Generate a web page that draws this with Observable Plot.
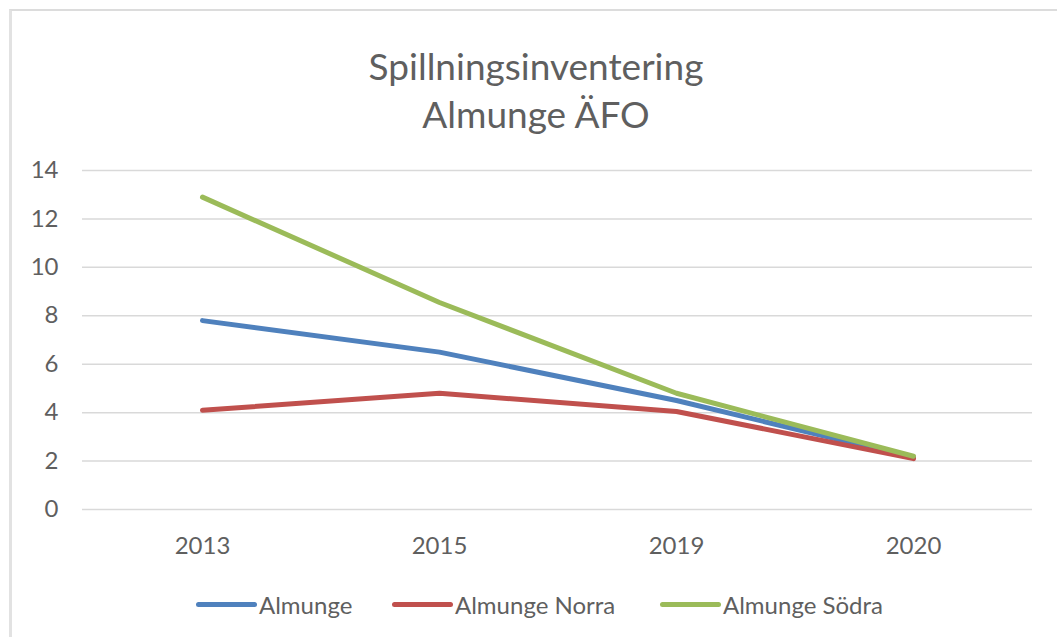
<!DOCTYPE html>
<html>
<head>
<meta charset="utf-8">
<script src="https://cdn.jsdelivr.net/npm/d3@7"></script>
<script src="https://cdn.jsdelivr.net/npm/@observablehq/plot@0.6"></script>
<style>
  html, body { margin: 0; padding: 0; background: #fff; }
  body { width: 1057px; height: 637px; position: relative; overflow: hidden; font-family: Lato, "Open Sans", sans-serif; color: #5f5f5f; }
  #frame { position: absolute; left: 9px; top: 9px; width: 1060px; height: 640px; border-left: 3px solid #e2e2e2; border-top: 2px solid #dcdcdc; box-sizing: border-box; }
  #title { position: absolute; left: 0; top: 42px; width: 1072px; text-align: center; font-size: 37px; line-height: 48px; font-weight: 400; color: #5f5f5f; }
  #chart { position: absolute; left: 0; top: 140px; }
  #legend { position: absolute; left: 0; top: 588px; width: 1057px; height: 32px; font-size: 24px; color: #5f5f5f; }
  .item { position: absolute; top: 0; display: flex; align-items: center; height: 32px; }
  .sw { width: 61px; height: 5px; border-radius: 3px; margin-right: 2px; }
</style>
</head>
<body>
<div id="frame"></div>
<div id="title">Spillningsinventering<br>Almunge ÄFO</div>
<div id="chart"></div>
<div id="legend"></div>
<script>
const years = ["2013", "2015", "2019", "2020"];
const seriesNames = ["Almunge", "Almunge Norra", "Almunge Södra"];
const almunge = [7.8, 6.5, 4.5, 2.15];
const almungeNorra = [4.1, 4.8, 4.05, 2.1];
const almungeSodra = [12.9, 8.55, 4.8, 2.2];
const yTicks = [0, 2, 4, 6, 8, 10, 12, 14];
const colors = ["#4F81BD", "#C0504D", "#9BBB59"];
const legendLeft = [196, 392, 660];

const seriesValues = [almunge, almungeNorra, almungeSodra];
const data = [];
seriesNames.forEach((name, i) => {
  years.forEach((yr, j) => data.push({ series: name, year: yr, value: seriesValues[i][j] }));
});

const chart = Plot.plot({
  width: 1057,
  height: 420,
  marginLeft: 82,
  marginRight: 25,
  marginTop: 30,
  marginBottom: 51,
  style: { fontFamily: "Lato, 'Open Sans', sans-serif", fontSize: "24px", color: "#5f5f5f", background: "transparent" },
  x: { type: "point", domain: years, padding: 0.5, label: null },
  y: { domain: [0, 14], ticks: yTicks, label: null },
  color: { domain: seriesNames, range: colors },
  marks: [
    Plot.ruleY(yTicks, { stroke: "#d9d9d9", strokeWidth: 1.5 }),
    Plot.axisY({ ticks: yTicks, tickSize: 0, tickPadding: 24, label: null, fontSize: 24, fill: "#5f5f5f" }),
    Plot.axisX({ tickSize: 0, tickPadding: 27, label: null, fontSize: 24, fill: "#5f5f5f" }),
    Plot.line(data, { x: "year", y: "value", z: "series", stroke: "series", strokeWidth: 5, strokeLinejoin: "round", strokeLinecap: "round" })
  ]
});
document.getElementById("chart").appendChild(chart);

const legend = document.getElementById("legend");
seriesNames.forEach((name, i) => {
  const item = document.createElement("div");
  item.className = "item";
  item.style.left = legendLeft[i] + "px";
  const sw = document.createElement("div");
  sw.className = "sw";
  sw.style.background = colors[i];
  const label = document.createElement("span");
  label.textContent = name;
  item.appendChild(sw);
  item.appendChild(label);
  legend.appendChild(item);
});
</script>
</body>
</html>
